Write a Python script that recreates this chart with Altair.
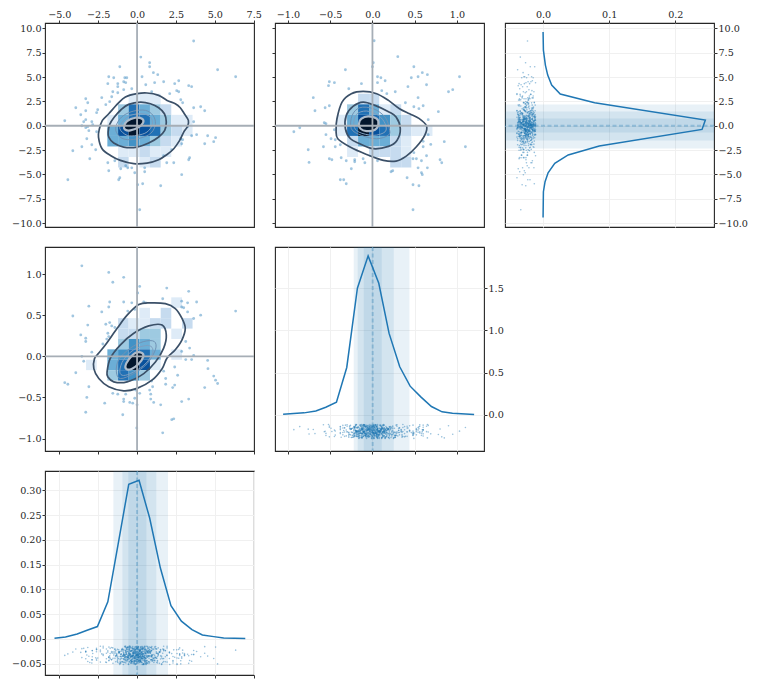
import altair as alt
import pandas as pd

BLUE = "#1f77b4"
FONT = "DejaVu Serif"

# ---------- scatter outliers (data units) ----------
s0_x = [3.64,0.24,-1.11,0.81,0.81,1.05,1.33,5.18,6.34,-1.82,-1.5,-0.79,-0.66,0.32,-1.88,-1.24,-0.86,-0.73,0.56,1.13,1.71,2.42,2.68,3.32,3.51,-1.24,-1.56,-1.24,-0.86,-0.34,0.94,2.55,2.68,2.10,-3.30,-2.27,-1.63,-3.17,-1.76,2.81,2.93,-3.94,-2.53,-2.01,-3.30,3.64,4.09,4.35,-2.6,-3.62,-3.30,-3.43,-4.65,-2.91,-2.85,3.64,-3.55,-3.17,-3.30,-3.1,-2.6,3.25,3.51,3.83,4.54,5.05,4.93,4.35,2.81,2.93,2.87,-3.23,-2.91,-3.55,-2.66,-4.13,-3.04,2.23,1.71,3.38,3.32,-1.88,-1.82,-1.43,-1.05,-0.73,-0.6,-0.34,-0.15,0.49,0.49,1.91,2.36,2.87,-1.11,-1.18,-4.45,0.04,0.36,1.52,0.17]
s0_y = [8.70,7.05,6.06,6.47,6.06,5.45,5.24,5.75,5.03,5.03,4.93,4.93,4.93,5.03,4.32,4.32,4.52,4.42,4.21,4.42,4.52,4.32,4.62,4.11,4.01,4.01,3.49,3.39,3.70,3.80,3.49,3.60,3.49,3.29,2.77,2.88,2.98,2.36,2.47,2.67,2.36,1.85,1.64,2.16,1.54,1.85,1.95,1.54,1.34,1.13,0.62,0.41,0.51,0.41,0.10,0.41,0.0,-0.10,-0.2,-0.51,-0.62,-0.1,-1.03,-0.92,-1.03,-1.23,-1.64,-1.85,-1.34,-1.44,-1.85,-1.34,-1.95,-2.16,-2.47,-2.57,-3.39,-2.47,-3.08,-3.29,-3.49,-3.80,-4.62,-3.6,-4.42,-4.11,-4.32,-4.32,-4.83,-4.32,-4.73,-3.80,-3.80,-5.03,-5.34,-5.55,-5.55,-6.06,-5.96,-6.16,-8.63]

s1_x = [0.02,0.30,0.01,0.0,-0.32,0.49,0.59,0.65,0.54,0.46,1.03,0.06,0.10,0.15,0.06,-0.51,-0.45,-0.52,-0.13,0.64,0.42,-0.28,0.11,0.27,0.17,0.95,0.90,0.54,-0.70,0.39,-0.56,-0.51,-0.68,0.49,0.55,0.60,0.78,0.66,-0.57,-0.55,-0.93,-0.86,-0.55,-0.45,-0.49,-0.44,-0.38,-0.58,-0.44,-0.76,-0.75,-0.51,-0.48,-0.37,-0.31,-0.21,-0.21,-0.11,-0.09,-0.25,-0.38,-0.34,-0.31,0.06,0.66,0.60,0.69,0.60,0.85,1.10,0.49,0.48,0.52,0.64,0.58,0.80,0.82,0.54,0.65,0.58,0.59,0.41,0.48,0.55,0.22,0.24,0.48]
s1_y = [8.73,7.09,6.47,6.06,5.75,6.06,5.45,5.24,5.03,4.93,5.03,5.03,4.93,4.62,4.42,4.52,4.42,4.11,4.32,4.21,4.01,3.80,3.6,3.49,3.29,3.70,3.49,2.88,2.88,2.36,1.85,2.05,1.54,1.95,1.75,2.05,1.44,0.62,0.31,0.2,-0.62,-0.21,-0.92,-0.41,-1.34,-1.44,-1.95,-2.16,-2.16,-2.47,-3.77,-3.39,-3.49,-3.29,-3.6,-3.49,-3.7,-3.39,-3.8,-4.42,-5.55,-5.55,-5.96,-3.6,-0.92,-1.6,-1.92,-2.16,-1.64,-2.16,-2.77,-3.39,-3.39,-3.08,-3.6,-3.49,-3.8,-4.32,-4.32,-4.83,-5.03,-5.34,-6.06,-6.16,-4.73,-4.62,-8.63]

s2_x = [-3.55,-1.82,-0.86,-1.56,0.17,1.91,0.04,3.32,-1.76,-0.86,-0.34,-3.1,-1.82,0.43,0.56,1.65,2.87,3.25,3.83,3.0,2.87,-2.27,-0.6,-0.15,3.25,6.34,-4.13,4.09,3.64,-2.01,-1.76,-3.17,-1.63,-1.43,-1.88,-1.82,-3.62,-3.3,-3.3,-1.95,-2.2,3.13,-2.91,3.38,2.87,-3.55,3.64,-3.43,3.13,3.51,4.54,-3.94,2.42,4.56,1.71,2.61,4.93,5.05,5.18,4.35,-4.65,-4.45,-3.1,1.84,1.84,0.94,1.0,2.42,2.29,-1.56,-1.24,-0.73,-0.09,0.17,0.81,0.88,-3.23,-0.15,0.88,-2.08,-0.86,-0.86,-0.47,-0.28,0.0,1.07,1.52,2.87,3.32,-3.3,-0.92,2.23,2.36,-0.02,1.65]
s2_y = [1.10,1.02,0.96,0.90,0.85,0.83,0.77,0.79,0.66,0.66,0.65,0.61,0.60,0.66,0.65,0.70,0.67,0.65,0.66,0.59,0.60,0.54,0.55,0.57,0.54,0.55,0.49,0.5,0.46,0.39,0.41,0.38,0.37,0.35,0.28,0.24,0.26,0.22,0.18,0.21,0.15,0.18,0.05,0.1,0.06,0.0,0.01,-0.06,-0.04,-0.04,-0.05,-0.2,-0.13,-0.15,-0.18,-0.23,-0.24,-0.29,-0.33,-0.38,-0.32,-0.34,-0.37,-0.27,-0.34,-0.3,-0.37,-0.35,-0.38,-0.45,-0.46,-0.46,-0.41,-0.45,-0.41,-0.46,-0.5,-0.51,-0.52,-0.57,-0.52,-0.55,-0.56,-0.57,-0.59,-0.56,-0.59,-0.55,-0.52,-0.68,-0.71,-0.77,-0.76,-0.87,-0.93]

# ---------- 2-d histogram cells: (column edge, row edge, shade) ----------
edges_a = [-4.65,-3.96,-3.28,-2.59,-1.91,-1.22,-0.54,0.15,0.83,1.52,2.20,2.89,3.57]
edges_b = [-0.42,-0.30,-0.17,-0.04,0.08,0.21,0.34,0.46,0.59,0.71]
edges_c = [3.29,2.20,1.12,0.03,-1.05,-2.13,-3.21,-4.29]
edges_bv = [0.717,0.59,0.464,0.337,0.211,0.085,-0.042,-0.168,-0.295]
cells0 = [(6,0,1),(7,0,1),(8,0,1),
 (5,1,3),(6,1,6),(7,1,4),(8,1,3),(9,1,2),
 (4,2,1),(5,2,4),(6,2,6),(7,2,6),(8,2,4),(9,2,3),(10,2,1),(11,2,1),
 (4,3,4),(5,3,7),(6,3,8),(7,3,7),(8,3,6),(9,3,3),(10,3,2),(11,3,1),
 (4,4,4),(5,4,4),(6,4,5),(7,4,4),(8,4,3),(9,4,2),(10,4,1),
 (5,5,1),(6,5,1),(7,5,2),(8,5,1),(9,5,1),
 (5,6,2),(7,6,1),(8,6,2)]
cells1 = [(2,0,2),(3,0,2),
 (1,1,3),(2,1,6),(3,1,4),(4,1,1),(5,1,2),
 (0,2,1),(1,2,4),(2,2,7),(3,2,6),(4,2,5),(5,2,3),(6,2,2),
 (0,3,1),(1,3,6),(2,3,8),(3,3,7),(4,3,6),(5,3,3),(6,3,2),(7,3,1),(8,3,1),
 (1,4,2),(2,4,4),(3,4,4),(4,4,4),(5,4,2),(6,4,1),
 (1,5,1),(3,5,2),(4,5,2),(5,5,2),(6,5,1),
 (5,6,2),(6,6,2)]
cells2 = [(10,0,1),
 (7,1,1),(9,1,2),
 (5,2,2),(6,2,1),(7,2,1),(8,2,2),(9,2,2),(11,2,2),
 (5,3,2),(6,3,2),(7,3,3),(8,3,3),(10,3,1),
 (5,4,3),(6,4,5),(7,4,4),(8,4,3),
 (4,5,4),(5,5,5),(6,5,6),(7,5,6),(8,5,4),(10,5,1),
 (2,6,1),(4,6,4),(5,6,6),(6,6,8),(7,6,7),(8,6,1),
 (4,7,3),(5,7,6),(6,7,5),(7,7,3)]
shades = [1,2,3,4,5,6,7,8]
shade_colors = ["#deebf7","#c6dbef","#9ecae1","#6baed6","#4292c6","#2171b5","#08519c","#03162c"]

# ---------- contours (data units) ----------
c0 = [
 ([-2.48,-2.42,-2.23,-1.82,-1.24,-0.75,0,0.64,1.39,1.93,2.46,2.78,3.04,3.30,3.25,3.0,2.74,2.36,1.93,1.39,0.64,-0.21,-1.07,-1.71,-2.25],
  [-1.16,-0.31,0.55,1.23,2.26,2.95,3.29,3.36,3.12,2.60,2.26,1.85,1.23,0.55,-0.07,-0.65,-1.51,-2.36,-2.95,-3.49,-3.84,-3.90,-3.56,-3.05,-2.36]),
 ([-1.86,-1.76,-1.46,-1.03,-0.54,0.21,0.86,1.39,1.76,1.88,1.78,1.39,0.75,0,-0.86,-1.5,-1.82],
  [-0.65,0.14,0.89,1.64,2.19,2.43,2.26,1.85,1.23,0.38,-0.48,-1.16,-1.78,-2.19,-2.19,-1.78,-1.16]),
 ([-1.37,-1.24,-0.86,-0.21,0.54,1.03,1.18,0.96,0.43,-0.43,-1.03],
  [-0.48,0.38,1.06,1.51,1.58,1.06,0.21,-0.65,-1.16,-1.44,-1.23]),
 ([-1.11,-0.9,-0.43,0.32,0.86,0.98,0.64,0,-0.64],
  [-0.31,0.48,1.06,1.23,0.89,0.14,-0.65,-0.99,-0.99]),
 ([-0.84,-0.64,-0.11,0.32,0.39,0.11,-0.43,-0.75],
  [-0.07,0.48,0.82,0.72,0.31,-0.14,-0.48,-0.41]),
]
c1 = [
 ([-0.43,-0.42,-0.36,-0.25,-0.11,0.05,0.19,0.32,0.44,0.55,0.64,0.62,0.52,0.40,0.28,0.13,-0.07,-0.27,-0.41],
  [-0.48,0.72,2.43,3.29,3.53,3.29,2.60,1.75,1.23,0.75,-0.03,-0.96,-2.16,-3.12,-3.63,-3.56,-2.95,-2.16,-1.34]),
 ([-0.32,-0.31,-0.23,-0.11,0.03,0.19,0.28,0.33,0.29,0.19,0.01,-0.15,-0.26],
  [-0.31,1.06,1.99,2.43,2.09,1.44,0.89,-0.31,-1.51,-2.12,-2.36,-1.85,-1.34]),
 ([-0.25,-0.24,-0.15,0.01,0.15,0.2,0.19,0.05,-0.13],
  [-0.31,1.06,1.85,1.75,0.89,-0.31,-0.96,-1.34,-0.99]),
 ([-0.22,-0.19,-0.07,0.07,0.15,0.15,0.01,-0.16],
  [0.03,1.16,1.51,1.06,0.21,-0.62,-0.99,-0.65]),
 ([-0.16,-0.13,-0.05,0.05,0.07,0.03,-0.07,-0.14],
  [0.2,0.72,0.96,0.72,0.14,-0.41,-0.55,-0.31]),
]
c2 = [
 ([-2.74,-2.46,-2.03,-1.28,-0.64,0.11,0.86,1.82,2.46,2.89,3.10,2.89,2.46,1.93,1.61,0.96,0,-0.86,-1.82,-2.46,-2.78],
  [-0.03,0.04,0.14,0.34,0.50,0.63,0.65,0.64,0.58,0.46,0.34,0.20,0.08,-0.02,-0.15,-0.29,-0.39,-0.42,-0.37,-0.27,-0.15]),
 ([-1.93,-1.71,-1.07,-0.21,0.75,1.61,1.88,1.71,1.18,0.43,-0.64,-1.5,-1.88],
  [-0.19,-0.02,0.14,0.28,0.37,0.38,0.26,0.10,-0.07,-0.21,-0.31,-0.31,-0.25]),
 ([-1.33,-1.18,-0.43,0.43,1.11,1.18,0.64,-0.21,-1.07],
  [-0.19,-0.04,0.10,0.18,0.18,0.08,-0.09,-0.21,-0.27]),
 ([-1.11,-0.86,-0.21,0.54,0.96,0.96,0.43,-0.43,-0.96],
  [-0.17,-0.04,0.08,0.13,0.11,0.02,-0.11,-0.21,-0.23]),
 ([-0.75,-0.54,-0.11,0.32,0.39,0.11,-0.32,-0.64],
  [-0.12,-0.04,0.04,0.04,-0.01,-0.09,-0.15,-0.16]),
]
contour_styles = [("#3b5068",1.7),("#3b5068",1.7),("#6f92b5",1.0),("#7f9fc0",1.0),("#aebccb",2.2)]
core_fill = "#03162c"

# ---------- marginal densities ----------
dens_a_x = [-5.31,-4.6,-3.85,-3.17,-2.55,-1.88,-1.22,-0.535,0.128,0.81,1.5,2.18,2.85,3.53,4.2,4.93,5.57,6.96]
dens_a_y = [0.0013,0.004,0.010,0.018,0.025,0.075,0.191,0.312,0.32,0.244,0.143,0.067,0.036,0.019,0.008,0.0047,0.002,0.0007]
dens_b_x = [-1.057,-0.809,-0.67,-0.552,-0.426,-0.304,-0.178,-0.051,0.075,0.197,0.323,0.446,0.572,0.698,0.824,0.947,1.203]
dens_b_y = [0.008,0.024,0.047,0.091,0.15,0.561,1.498,1.881,1.557,0.964,0.569,0.34,0.213,0.099,0.036,0.02,0.004]
dens_c_d = [0,0.0005,0.0035,0.007,0.013,0.026,0.078,0.2455,0.2405,0.085,0.038,0.0177,0.0076,0.003,0.0005,0]
dens_c_y = [9.62,7.77,6.23,5.2,4.18,3.25,2.36,0.58,-0.38,-2.09,-3.0,-3.87,-4.83,-5.75,-6.78,-9.42]

bands_a = [(-1.52,1.99),(-0.94,1.24),(-0.56,0.60)]
bands_b = [(-0.221,0.438),(-0.174,0.252),(-0.103,0.110)]
bands_c = [(-2.33,2.19),(-1.51,1.47),(-0.69,0.75)]
center_a, center_b, center_c = 0.0, 0.003, 0.0

# ---------- strip points: values estimated by eye from the dense clouds ----------
core_a = [-0.12,0.34,-0.55,0.81,-1.02,0.07,0.46,-0.28,1.13,-0.71,0.19,-0.04,0.62,-0.38,-1.31,0.93,0.27,-0.16,1.44,-0.83,0.52,-0.47,0.11,-0.22,0.73,-0.61,1.71,-1.55,0.39,-0.09,0.04,-0.33,0.87,-0.94,0.22,-1.18,1.27,0.58,-0.51,0.15,-0.02,-0.74,0.68,1.02,-0.26,0.31,-1.73,1.93,-0.41,0.09,-0.18,0.49,-0.65,0.77,-0.88,0.02,1.36,-1.09,0.25,-0.31,-0.07,0.56,-1.42,1.58,0.13,-0.44,0.97,-0.58,0.36,-0.14,2.08,-1.97,0.42,-0.77,0.65,-0.24,0.17,1.19,-1.26,-0.01,0.29,-0.52,-2.18,2.31,0.84,-0.35,0.06,-0.98,0.54,-0.11,1.51,-0.68,0.21,-1.64,0.75,-0.42,0.12,-0.2,2.57,-2.36,0.38,-0.85,0.91,-0.06,0.48,-1.14,1.08,-0.29,0.0,0.6,-0.54,1.82,-0.79,0.24,-0.15,0.33,-2.61,2.74,-0.37,0.71,-1.37,0.1,-0.49,1.24,0.44,-0.9,0.18,-0.03,-0.63,0.95,-1.81,0.28,1.65,-0.19,0.51,-0.72,3.05,-2.88,0.08,-0.25,0.66,-1.05,0.37,-0.46,1.31,-0.1,0.2,-0.57]
core_b = [-0.03,0.08,-0.11,0.17,-0.19,0.02,0.11,-0.07,0.24,-0.14,0.05,-0.01,0.14,-0.09,-0.22,0.21,0.06,-0.04,0.31,-0.16,0.12,-0.1,0.03,-0.05,0.16,-0.13,0.36,-0.24,0.09,-0.02,0.01,-0.08,0.19,-0.17,0.05,-0.2,0.27,0.13,-0.11,0.04,0.0,-0.15,0.15,0.22,-0.06,0.07,-0.26,0.41,-0.09,0.02,-0.04,0.11,-0.13,0.17,-0.18,0.01,0.29,-0.21,0.06,-0.07,-0.02,0.13,-0.23,0.34,0.03,-0.1,0.2,-0.12,0.08,-0.03,0.44,-0.28,0.1,-0.16,0.14,-0.06,0.04,0.25,-0.21,0.0,0.07,-0.11,-0.3,0.48,0.18,-0.08,0.01,-0.19,0.12,-0.03,0.32,-0.14,0.05,-0.25,0.16,-0.09,0.03,-0.05,0.52,-0.33,0.09,-0.17,0.19,-0.01,0.11,-0.2,0.23,-0.07,0.0,0.13,-0.12,0.38,-0.16,0.06,-0.04,0.08,-0.35,0.56,-0.08,0.15,-0.22,0.02,-0.11,0.26,0.1,-0.18,0.04,-0.01,-0.13,0.2,-0.27,0.06,0.35,-0.05,0.12,-0.15,0.6,-0.38,0.02,-0.06,0.14,-0.19,0.09,-0.1,0.28,-0.03,0.05,-0.12]
core_c = [0.21,-0.47,0.83,-1.12,1.36,0.09,-0.26,0.58,-0.71,1.74,-1.58,0.34,-0.05,0.96,-0.89,0.14,-2.03,1.21,-0.36,0.67,2.12,-0.17,-1.31,0.45,0.02,-0.62,1.05,-0.94,0.29,-1.76,1.52,0.76,-0.41,-0.11,2.41,-2.27,0.18,-0.53,0.91,-1.03,0.38,-0.22,1.63,-0.79,0.06,-1.44,1.28,0.51,-0.31,-2.52,2.63,0.12,-0.67,0.72,-1.17,0.25,-0.08,1.13,-0.98,0.42,-1.89,1.91,-0.44,0.61,-0.15,0.03,-1.24,0.87,-0.57,0.31,2.86,-2.74,-0.02,-0.84,1.43,0.55,-0.29,0.17,-1.51,1.01,-0.38,0.69,-3.02,3.05,0.08,-0.49,0.79,-1.08,0.23,-0.13,1.82,-0.74,0.47,-1.68,1.17,-0.33,0.36,-2.21,2.24,-0.06,0.64,-0.91,0.11,-1.37,1.57,-0.56,0.27,-0.19,0.93,-1.15,2.02,0.49,-0.42,0.01,-3.28,3.22,-0.77,0.74,-0.24,1.33,-1.62,0.19,-0.6,1.08,0.4,-0.03,-1.96,2.35,-0.35,0.85,-1.27,0.15,-0.51,1.47,0.56,-0.86,0.05,-2.43,2.76,-0.18,0.66,-1.01,0.32,-0.69,1.24,0.1]
jitter = [0.12,-0.63,0.41,-0.08,0.87,-0.34,0.22,-0.91,0.55,-0.17,0.03,-0.48,0.71,-0.26,0.34,-0.76,0.18,0.96,-0.55,-0.04,0.48,-0.21,0.63,-0.85,0.09,-0.39,0.79,-0.12,0.27,-0.69,0.01,0.58,-0.31,-0.98,0.38,0.15,-0.44,0.83,-0.06,-0.58,0.24,0.67,-0.28,-0.72,0.44,0.06,-0.15,0.92,-0.52,0.31,-0.36,0.74,-0.01,-0.81,0.2,0.51,-0.24,-0.65,0.36,-0.1,0.61]

AX = dict(domain=False, ticks=True, tickSize=3, tickColor="#333333", tickWidth=1,
          labelFont=FONT, labelFontSize=9.6, labelColor="#262626", labelPadding=1,
          title=None, labelFlush=False, labelOverlap=False)

dom_a = [-5.92, 7.52]
dom_b = [-1.153, 1.32]
dom_c = [-10.4, 10.55]
vals_a = [-5.0,-2.5,0.0,2.5,5.0,7.5]
vals_b = [-1.0,-0.5,0.0,0.5,1.0]
vals_c = [-10.0,-7.5,-5.0,-2.5,0.0,2.5,5.0,7.5,10.0]
dom_bv = [-1.151, 1.329]
vals_bv = [-1.0,-0.5,0.0,0.5,1.0]
W, H = 209, 204
GRID = dict(grid=True, gridColor="#f0f0f0", gridWidth=1)


def enc_axis(vals, orient, fmt=".1f", labels=True, grid=False):
    kw = dict(AX)
    if grid:
        kw.update(GRID)
    else:
        kw["grid"] = False
    return alt.Axis(values=vals, orient=orient, format=fmt, labels=labels, **kw)


def joint(xs, ys, cells, xe, ye, contours, xdom, ydom, xaxis, yaxis):
    sx = alt.Scale(domain=xdom, nice=False, zero=False)
    sy = alt.Scale(domain=ydom, nice=False, zero=False)
    X = lambda f: alt.X(f, scale=sx, axis=xaxis)
    Y = lambda f: alt.Y(f, scale=sy, axis=yaxis)
    df_cells = pd.DataFrame(
        [dict(x=xe[i], x2=xe[i + 1], y=ye[j], y2=ye[j + 1], shade=s) for i, j, s in cells])
    layers = [alt.Chart(df_cells).mark_rect(stroke=None).encode(
        x=X("x:Q"), x2="x2:Q", y=Y("y:Q"), y2="y2:Q",
        color=alt.Color("shade:O", scale=alt.Scale(domain=shades, range=shade_colors), legend=None))]
    layers.append(alt.Chart(pd.DataFrame({"x": xs, "y": ys})).mark_circle(
        size=8, color=BLUE, opacity=0.42).encode(x=X("x:Q"), y=Y("y:Q")))
    for k, (cx, cy) in enumerate(contours):
        col, w = contour_styles[k]
        kw = dict(fill=core_fill, fillOpacity=1) if k == 4 else {}
        layers.append(alt.Chart(pd.DataFrame({"x": cx, "y": cy, "i": range(len(cx))})).mark_line(
            color=col, strokeWidth=w, interpolate="cardinal-closed", **kw).encode(
            x=X("x:Q"), y=Y("y:Q"), order="i:Q"))
    layers.append(alt.Chart(pd.DataFrame({"x": [0.0]})).mark_rule(color="#a6aeb6", strokeWidth=1.8).encode(x=X("x:Q")))
    layers.append(alt.Chart(pd.DataFrame({"y": [0.0]})).mark_rule(color="#a6aeb6", strokeWidth=1.8).encode(y=Y("y:Q")))
    return alt.layer(*layers).properties(width=W, height=H)


def marginal(bands, center, dens_v, dens_d, strip, strip_center, strip_spread,
             vdom, ddom, vaxis, daxis, vertical):
    sv = alt.Scale(domain=vdom, nice=False, zero=False)
    sd = alt.Scale(domain=ddom, nice=False, zero=False)
    V = lambda f: dict(y=alt.Y(f, scale=sv, axis=vaxis)) if vertical else dict(x=alt.X(f, scale=sv, axis=vaxis))
    D = lambda f: dict(x=alt.X(f, scale=sd, axis=daxis)) if vertical else dict(y=alt.Y(f, scale=sd, axis=daxis))
    v2 = "y2" if vertical else "x2"
    layers = []
    layers.append(alt.Chart(pd.DataFrame({"v": dens_v, "d": dens_d})).mark_line(opacity=0).encode(
        **V("v:Q"), **D("d:Q")))
    for lo, hi in bands:
        layers.append(alt.Chart(pd.DataFrame({"v": [lo], "v2": [hi]})).mark_rect(
            color=BLUE, opacity=0.1).encode(**V("v:Q"), **{v2: "v2:Q"}))
    layers.append(alt.Chart(pd.DataFrame({"v": [center]})).mark_rule(
        color=BLUE, opacity=0.3, strokeWidth=2, strokeDash=[4, 2.5]).encode(**V("v:Q")))
    sdata = pd.DataFrame({"v": strip,
                          "d": [strip_center + strip_spread * jitter[i % len(jitter)] for i in range(len(strip))]})
    layers.append(alt.Chart(sdata).mark_circle(size=2.6, color=BLUE, opacity=0.45).encode(
        **V("v:Q"), **D("d:Q")))
    ldata = pd.DataFrame({"v": dens_v, "d": dens_d, "i": range(len(dens_v))})
    layers.append(alt.Chart(ldata).mark_line(color=BLUE, strokeWidth=1.5).encode(
        **V("v:Q"), **D("d:Q"), order="i:Q"))
    return alt.layer(*layers).properties(width=W, height=H)


p00 = joint(s0_x, s0_y, cells0, edges_a, edges_c, c0, dom_a, dom_c,
            enc_axis(vals_a, "top"), enc_axis(vals_c, "left"))
p01 = joint(s1_x, s1_y, cells1, edges_b, edges_c, c1, dom_b, dom_c,
            enc_axis(vals_b, "top"), enc_axis(vals_c, "left", labels=False))
# the cores are repeated: the jitter list's different length gives each pass new offsets
p02 = marginal(bands_c, center_c, dens_c_y, dens_c_d, s0_y + core_c * 4, -0.0253, 0.0145,
               dom_c, [-0.0576, 0.2586],
               enc_axis(vals_c, "right", grid=True),
               enc_axis([0.0, 0.1, 0.2], "top", grid=True), True)
p10 = joint(s2_x, s2_y, cells2, edges_a, edges_bv, c2, dom_a, dom_bv,
            enc_axis(vals_a, "bottom", labels=False), enc_axis(vals_bv, "left"))
p11 = marginal(bands_b, center_b, dens_b_x, dens_b_y, s1_x + core_b * 4, -0.195, 0.085,
               dom_b, [-0.427, 1.986],
               enc_axis(vals_b, "bottom", labels=False, grid=True),
               enc_axis([0.0, 0.5, 1.0, 1.5], "right", grid=True), False)
p20 = marginal(bands_a, center_a, dens_a_x, dens_a_y, s0_x + core_a * 4, -0.033, 0.019,
               dom_a, [-0.0727, 0.3388],
               enc_axis(vals_a, "bottom", labels=False, grid=True),
               enc_axis([-0.05, 0.0, 0.05, 0.10, 0.15, 0.20, 0.25, 0.30], "left", fmt=".2f", grid=True), False)

blank = alt.Chart(pd.DataFrame({"x": [0]})).mark_point(opacity=0).encode(
    x=alt.X("x:Q", axis=None), y=alt.Y("x:Q", axis=None)
).properties(width=W, height=H, view=alt.ViewConfig(stroke=None))

chart = alt.concat(p00, p01, p02, p10, p11, blank, p20, columns=3,
                   spacing={"row": 20, "column": 21}, bounds="flush").properties(
    padding={"left": 3, "top": 0, "right": 0, "bottom": 0}
).configure_view(stroke="#262626", strokeWidth=1.1)

chart.save("out.html", embed_options={"renderer": "svg", "actions": False})
